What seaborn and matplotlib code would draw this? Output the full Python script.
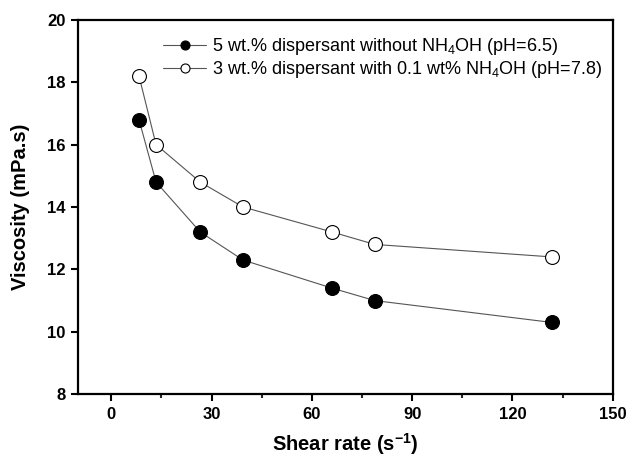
import numpy as np
import pandas as pd
import matplotlib
matplotlib.use("Agg")
import matplotlib.pyplot as plt
import seaborn as sns

sns.set_style("ticks")
plt.rcParams['font.family'] = ['Liberation Sans', 'DejaVu Sans']
plt.rcParams['mathtext.fontset'] = 'custom'
plt.rcParams['mathtext.rm'] = 'Liberation Sans'
plt.rcParams['mathtext.bf'] = 'Liberation Sans:bold'
plt.rcParams['text.color'] = 'black'
plt.rcParams['axes.labelcolor'] = 'black'

# Data
shear_rate = [8.3, 13.4, 26.6, 39.4, 66.0, 78.8, 131.7]
visc_without = [16.8, 14.8, 13.2, 12.3, 11.4, 11.0, 10.3]
visc_with = [18.2, 16.0, 14.8, 14.0, 13.2, 12.8, 12.4]
labels = ["5 wt.% dispersant without NH$_4$OH (pH=6.5)",
          "3 wt.% dispersant with 0.1 wt% NH$_4$OH (pH=7.8)"]
xticks = [0, 30, 60, 90, 120, 150]
yticks = [8, 10, 12, 14, 16, 18, 20]

df = pd.DataFrame({"x": shear_rate, "a": visc_without, "b": visc_with})

fig = plt.figure(figsize=(6.43, 4.61), dpi=100)
ax = fig.add_axes([0.121, 0.145, 0.832, 0.812])

sns.lineplot(data=df, x="x", y="a", ax=ax, color="#555555", linewidth=0.8,
             marker="o", markersize=10, markerfacecolor="black", markeredgecolor="black",
             markeredgewidth=0.8, label=labels[0])
sns.lineplot(data=df, x="x", y="b", ax=ax, color="#555555", linewidth=0.8,
             marker="o", markersize=10, markerfacecolor="white", markeredgecolor="black",
             markeredgewidth=0.8, label=labels[1])

ax.set_xlim(-10, 150)
ax.set_ylim(8, 20)
ax.set_xticks(xticks)
ax.set_yticks(yticks)
ax.set_xticks(np.arange(15, 150, 30), minor=True)
ax.tick_params(axis='both', which='major', direction='out', length=5, width=1.5,
               labelsize=12, colors='black', pad=4)
ax.tick_params(axis='x', which='minor', direction='out', length=3, width=1.5)
ax.tick_params(axis='y', which='minor', left=False)
for lab in ax.get_xticklabels() + ax.get_yticklabels():
    lab.set_fontweight('bold')

for sp in ax.spines.values():
    sp.set_visible(True)
    sp.set_linewidth(1.6)
    sp.set_color('black')

ax.set_xlabel(r"Shear rate (s$^{\mathbf{-1}}$)", fontsize=14.5, fontweight='bold',
              labelpad=7, color='black')
ax.set_ylabel("Viscosity (mPa.s)", fontsize=14.5, fontweight='bold', labelpad=12,
              color='black')

leg = ax.legend(loc='upper left', bbox_to_anchor=(0.146, 0.975), frameon=False, fontsize=13,
                handlelength=2.4, handletextpad=0.3, labelspacing=0.1, markerscale=0.65,
                borderaxespad=0)
for t in leg.get_texts():
    t.set_color('black')

fig.savefig("out.png", dpi=100)
